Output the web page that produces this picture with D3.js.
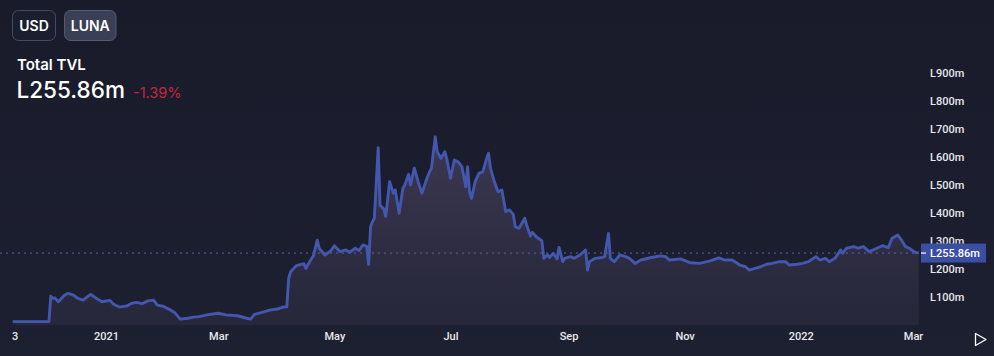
<!DOCTYPE html>
<html>
<head>
<meta charset="utf-8">
<script src="https://cdn.jsdelivr.net/npm/d3@7/dist/d3.min.js"></script>
<style>
  html, body { margin: 0; padding: 0; background: #1b1e2f; }
  svg { display: block; }
</style>
</head>
<body>
<svg id="chart" width="994" height="356"></svg>
<script>
// ---- DATA ----
const dates = [
  "2020-11-13","2020-12-02","2020-12-03","2020-12-04","2020-12-05","2020-12-07","2020-12-10","2020-12-12","2020-12-15","2020-12-17",
  "2020-12-20","2020-12-23","2020-12-24","2020-12-27","2020-12-30","2021-01-03","2021-01-05","2021-01-08","2021-01-12","2021-01-14",
  "2021-01-17","2021-01-20","2021-01-23","2021-01-26","2021-01-28","2021-01-31","2021-02-04","2021-02-06","2021-02-09","2021-02-13",
  "2021-02-16","2021-02-19","2021-02-23","2021-03-01","2021-03-05","2021-03-11","2021-03-16","2021-03-18","2021-03-20","2021-03-24",
  "2021-03-28","2021-04-01","2021-04-04","2021-04-06","2021-04-07","2021-04-08","2021-04-11","2021-04-15","2021-04-16","2021-04-18",
  "2021-04-20","2021-04-22","2021-04-23","2021-04-26","2021-04-29","2021-05-01","2021-05-04","2021-05-07","2021-05-09","2021-05-12",
  "2021-05-14","2021-05-16","2021-05-18","2021-05-19","2021-05-20","2021-05-21","2021-05-22","2021-05-24","2021-05-25","2021-05-27",
  "2021-05-28","2021-05-30","2021-06-01","2021-06-02","2021-06-04","2021-06-06","2021-06-07","2021-06-09","2021-06-10","2021-06-12",
  "2021-06-14","2021-06-16","2021-06-18","2021-06-20","2021-06-21","2021-06-23","2021-06-24","2021-06-26","2021-06-28","2021-06-29",
  "2021-07-01","2021-07-03","2021-07-05","2021-07-07","2021-07-09","2021-07-10","2021-07-11","2021-07-12","2021-07-14","2021-07-16",
  "2021-07-18","2021-07-20","2021-07-21","2021-07-22","2021-07-24","2021-07-26","2021-07-28","2021-07-30","2021-08-01","2021-08-03",
  "2021-08-04","2021-08-06","2021-08-07","2021-08-09","2021-08-10","2021-08-12","2021-08-13","2021-08-15","2021-08-18","2021-08-19",
  "2021-08-21","2021-08-22","2021-08-24","2021-08-26","2021-08-27","2021-08-29","2021-08-30","2021-09-02","2021-09-04","2021-09-07",
  "2021-09-10","2021-09-11","2021-09-12","2021-09-15","2021-09-18","2021-09-20","2021-09-22","2021-09-23","2021-09-25","2021-09-28",
  "2021-10-01","2021-10-03","2021-10-06","2021-10-09","2021-10-14","2021-10-19","2021-10-22","2021-10-24","2021-10-30","2021-11-04",
  "2021-11-09","2021-11-14","2021-11-19","2021-11-22","2021-11-26","2021-11-30","2021-12-03","2021-12-05","2021-12-08","2021-12-11",
  "2021-12-14","2021-12-17","2021-12-21","2021-12-24","2021-12-26","2021-12-30","2022-01-02","2022-01-05","2022-01-09","2022-01-11",
  "2022-01-14","2022-01-16","2022-01-19","2022-01-22","2022-01-23","2022-01-25","2022-01-29","2022-01-31","2022-02-03","2022-02-06",
  "2022-02-10","2022-02-13","2022-02-16","2022-02-18","2022-02-21","2022-02-23","2022-02-25","2022-02-27","2022-03-02","2022-03-04"
];
const tvl = [
  11,11,102,94,96,82,104,112,106,95,
  88,104,108,94,82,87,73,63,67,75,
  80,75,85,88,70,66,52,44,20,23,
  27,29,35,41,35,32,23,20,37,44,
  52,56,63,64,166,189,211,218,201,225,
  246,302,273,249,263,282,261,267,259,273,
  265,285,280,215,350,368,380,632,427,413,
  386,511,469,481,398,487,499,537,499,559,
  511,469,511,546,559,671,618,594,618,594,
  523,588,582,564,493,564,475,451,511,541,
  546,594,612,559,511,475,481,404,410,394,
  350,344,356,380,356,317,330,314,300,237,
  250,240,255,235,276,225,237,243,237,249,
  267,195,225,237,239,243,326,237,225,249,
  243,237,219,231,239,246,243,231,235,221,
  219,227,239,231,231,213,207,195,201,207,
  216,219,225,225,213,216,219,225,243,231,
  237,225,237,267,255,273,279,273,279,261,
  273,282,275,309,320,302,279,273,259,255.86
];
const yTicks = [100,200,300,400,500,600,700,800,900];
const xTickDates = ["2020-11-14","2021-01-01","2021-03-01","2021-05-01","2021-07-01","2021-09-01","2021-11-01","2022-01-01","2022-03-01"];
const xTickLabels = ["3","2021","Mar","May","Jul","Sep","Nov","2022","Mar"];
const currentValue = 255.86;
const changePct = -1.39;
const buttons = ["USD","LUNA"];

// ---- CHART ----
const parse = d3.utcParse("%Y-%m-%d");
const data = dates.map((d, i) => ({ date: parse(d), value: tvl[i] }));
const svg = d3.select("#chart");
const W = 994, H = 356;
const plotRight = 919, plotBottom = 325;

// background
const defs = svg.append("defs");
const bg = defs.append("linearGradient").attr("id","bg").attr("x1",0).attr("y1",0).attr("x2",0).attr("y2",1);
bg.append("stop").attr("offset","0%").attr("stop-color","#191b2b");
bg.append("stop").attr("offset","100%").attr("stop-color","#1d2031");
svg.append("rect").attr("width",W).attr("height",H).attr("fill","url(#bg)");

const x = d3.scaleUtc()
  .domain([parse("2021-01-01"), parse("2022-03-01")])
  .range([106, 913]);
const y = d3.scaleLinear().domain([0, 900]).range([324.7, 72.7]);

const clip = defs.append("clipPath").attr("id","plot");
clip.append("rect").attr("x",0).attr("y",0).attr("width",plotRight).attr("height",plotBottom);

const ag = defs.append("linearGradient").attr("id","area")
  .attr("gradientUnits","userSpaceOnUse").attr("x1",0).attr("y1",y(680)).attr("x2",0).attr("y2",plotBottom);
ag.append("stop").attr("offset","0%").attr("stop-color","rgba(125,105,150,0.36)");
ag.append("stop").attr("offset","100%").attr("stop-color","rgba(95,85,115,0.14)");

const g = svg.append("g").attr("clip-path","url(#plot)");

g.append("path").datum(data)
  .attr("fill","url(#area)")
  .attr("d", d3.area().x(d => x(d.date)).y0(plotBottom).y1(d => y(d.value)));

// dotted price line
g.append("line")
  .attr("x1",0).attr("x2",plotRight)
  .attr("y1",y(currentValue)).attr("y2",y(currentValue))
  .attr("stroke","#6c70c4").attr("stroke-opacity",0.8)
  .attr("stroke-width",1).attr("stroke-dasharray","2 4");

g.append("path").datum(data)
  .attr("fill","none")
  .attr("stroke","#4357ae")
  .attr("stroke-width",2.9)
  .attr("stroke-linejoin","round")
  .attr("d", d3.line().x(d => x(d.date)).y(d => y(d.value)));

// right axis
const yAxis = d3.axisRight(y).tickValues(yTicks).tickSize(0).tickPadding(0)
  .tickFormat(d => "L" + d + "m");
const ya = svg.append("g").attr("transform","translate(930,0)").call(yAxis);
ya.select(".domain").remove();
ya.selectAll("text").attr("fill","#e8e8ec").attr("font-family","Roboto, 'Liberation Sans', sans-serif")
  .attr("font-size",11).attr("font-weight",500).attr("dy","0.35em");

// current value label
const cy = y(currentValue);
svg.append("rect").attr("x",921).attr("y",cy-9.5).attr("width",65).attr("height",19)
  .attr("fill","#3a4ea3");
svg.append("line").attr("x1",921).attr("x2",926).attr("y1",cy).attr("y2",cy)
  .attr("stroke","#ffffff").attr("stroke-width",1.2);
svg.append("text").attr("x",930).attr("y",cy).attr("dy","0.36em")
  .attr("fill","#ffffff").attr("font-family","Roboto, 'Liberation Sans', sans-serif")
  .attr("font-size",11).attr("font-weight",500)
  .text("L" + currentValue.toFixed(2) + "m");

// bottom axis
const xAxis = d3.axisBottom(x).tickValues(xTickDates.map(parse)).tickSize(0).tickPadding(0)
  .tickFormat((d, i) => xTickLabels[i]);
const xa = svg.append("g").attr("transform","translate(0,332)").call(xAxis);
xa.select(".domain").remove();
xa.selectAll("text").attr("fill","#e8e8ec").attr("font-family","Roboto, 'Liberation Sans', sans-serif")
  .attr("font-size",11).attr("font-weight",500).attr("dy","0.71em");

// play icon
svg.append("path").attr("d","M975.5,333.5 L986,339.5 L975.5,345.5 Z")
  .attr("fill","none").attr("stroke","#ffffff").attr("stroke-width",1.3).attr("stroke-linejoin","round");

// header buttons
const btn = [
  { x: 12.5, w: 43, fill: "#1b1e2f", stroke: "#464b62" },
  { x: 64.5, w: 51.5, fill: "#3a3f56", stroke: "#555b73" }
];
buttons.forEach((b, i) => {
  svg.append("rect").attr("x",btn[i].x).attr("y",10.5).attr("width",btn[i].w).attr("height",30)
    .attr("rx",6).attr("fill",btn[i].fill).attr("stroke",btn[i].stroke);
  svg.append("text").attr("x",btn[i].x + btn[i].w/2).attr("y",31)
    .attr("text-anchor","middle").attr("fill","#ffffff")
    .attr("font-family","Inter, 'Noto Sans', sans-serif").attr("font-size",14).attr("font-weight",600)
    .text(b);
});

svg.append("text").attr("x",17).attr("y",69.5).attr("fill","#ffffff")
  .attr("font-family","Inter, 'Noto Sans', sans-serif").attr("font-size",15).attr("font-weight",600)
  .text("Total TVL");
svg.append("text").attr("x",16.5).attr("y",98.3).attr("fill","#ffffff")
  .attr("font-family","Inter, 'Noto Sans', sans-serif").attr("font-size",22.5).attr("font-weight",500)
  .text("L" + currentValue.toFixed(2) + "m");
svg.append("text").attr("x",133).attr("y",98.3).attr("fill","#c4273b")
  .attr("font-family","Inter, 'Noto Sans', sans-serif").attr("font-size",14.5).attr("font-weight",400)
  .text(changePct.toFixed(2) + "%");
</script>
</body>
</html>
